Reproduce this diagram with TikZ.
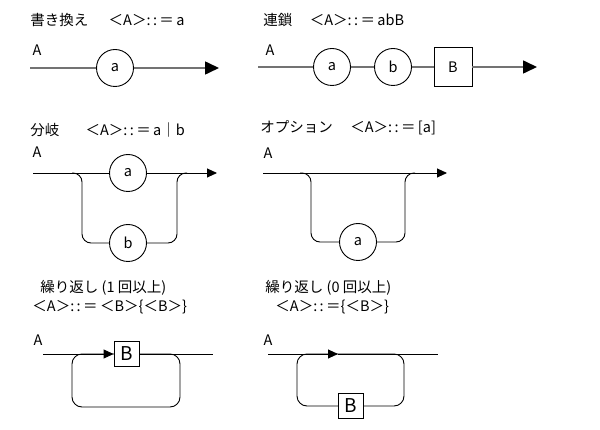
\documentclass[tikz,border=0pt]{standalone}
\usepackage{fontspec}
\setmainfont{Noto Sans CJK JP}
\usetikzlibrary{arrows.meta}
\begin{document}
\begin{tikzpicture}[x=1pt,y=-1pt,font=\fontsize{14.5}{17}\selectfont,line width=0.9pt,
  term/.style={circle,draw,minimum size=37pt,inner sep=0pt},
  nonterm/.style={rectangle,draw,fill=white,minimum width=38pt,minimum height=39pt,inner sep=0pt},
  loopbox/.style={rectangle,draw,fill=white,minimum size=25pt,inner sep=0pt,font=\fontsize{19}{21}\selectfont},
  title/.style={anchor=west,inner sep=0pt},
  rail/.style={line width=1.6pt,draw=black!55},
  bigtip/.style={-{Triangle[length=14pt,width=13pt,color=black]}},
  smalltip/.style={-{Triangle[length=10pt,width=9pt]}}]
\useasboundingbox (0,0) rectangle (600,430);
% 書き換え
\node[title] (t1) at (30,20) {書き換え\hspace{1.4em}＜A＞:\,:\,＝\,a};
\node (A1) at (37,50) {A};
\coordinate (s1) at (30,68);
\node [term](a1) at (115,68) {a};
\coordinate (e1) at (219,68);
\draw[rail] (s1) -- (a1);
\draw[rail,bigtip] (a1) -- (e1);
% 連鎖
\node[title] (t2) at (263,20) {連鎖\hspace{1.2em}＜A＞:\,:\,＝\,abB};
\node (A2) at (270,50) {A};
\coordinate (s2) at (258,67);
\node [term](a2) at (332,67) {a};
\node [term](b2) at (393,67) {b};
\node [nonterm](B2) at (453,67) {B};
\coordinate (e2) at (537,67);
\path[rail]
    (s2) edge (a2)
    (a2) edge (b2)
    (b2) edge (B2);
\draw[rail,bigtip] (B2) -- (e2);
% 分岐
\node[title] (t3) at (30,130) {分岐\hspace{1.8em}＜A＞:\,:\,＝\,a｜b};
\node (A3) at (37,152) {A};
\coordinate (s3) at (33,173);
\node [term](a3) at (128,173) {a};
\node [term](b3) at (128,243) {b};
\coordinate (e3) at (217,173);
\coordinate (l3) at (72,173);
\coordinate (r3) at (187,173);
\draw (s3) -- (a3);
\draw[smalltip] (a3) -- (e3);
\draw[rounded corners=9] (l3) -| (82,243) -- (b3);
\draw[rounded corners=9] (b3) -- (177,243) |- (r3);
% オプション
\node[title] (t4) at (260,128) {オプション\hspace{1.2em}＜A＞:\,:\,＝\,[a]};
\node (A4) at (268,153) {A};
\coordinate (s4) at (263,173);
\coordinate (e4) at (447,173);
\node [term](a4) at (358,242) {a};
\coordinate (l4) at (300,173);
\coordinate (r4) at (415,173);
\draw[smalltip] (s4) -- (e4);
\draw[rounded corners=9] (l4) -| (311,242) -- (a4);
\draw[rounded corners=9] (a4) -- (405,242) |- (r4);
% 繰り返し (1回以上)
\node[title] (t5) at (40,288) {繰り返し (1 回以上)};
\node[title] (u5) at (32,307) {＜A＞:\,:\,＝\,＜B＞\{＜B＞\}};
\node (A5) at (38,340) {A};
\coordinate (s5) at (43,354);
\coordinate (e5) at (213,354);
\draw[rounded corners=10] (72,354) rectangle (180,407);
\node [loopbox](B5) at (126.5,354) {B};
\draw[smalltip] (s5) -- (B5);
\draw (B5) -- (e5);
% 繰り返し (0回以上)
\node[title] (t6) at (265,288) {繰り返し (0 回以上)};
\node[title] (u6) at (275,307) {＜A＞:\,:\,＝\{＜B＞\}};
\node (A6) at (268,340) {A};
\coordinate (s6) at (268,354);
\coordinate (m6) at (338,354);
\coordinate (e6) at (438,354);
\draw[rounded corners=10] (297,354) rectangle (404,406);
\node [loopbox](B6) at (351,406) {B};
\draw[smalltip] (s6) -- (m6);
\draw (m6) -- (e6);
\end{tikzpicture}
\end{document}
